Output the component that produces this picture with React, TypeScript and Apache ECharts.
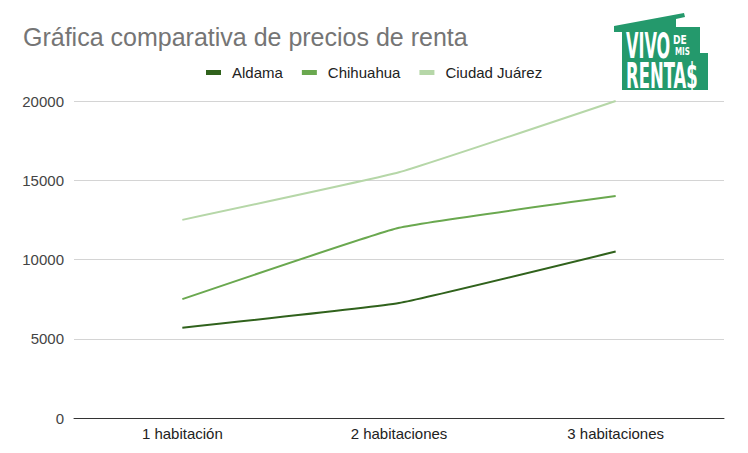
import React, { useEffect, useRef } from "react";
import * as echarts from "echarts";

const categories = ["1 habitación", "2 habitaciones", "3 habitaciones"];
const aldama = [5700, 7250, 10500];
const chihuahua = [7500, 12000, 14000];
const juarez = [12500, 15500, 20000];
const seriesNames = ["Aldama", "Chihuahua", "Ciudad Juárez"];
const seriesColors = ["#30621c", "#6aa84f", "#b6d7a8"];
const yTicks = { min: 0, max: 20000, interval: 5000 };

const LOGO = "#24996c";
const FONT = "Liberation Sans, Arial, sans-serif";

export default function App() {
  const ref = useRef<HTMLDivElement>(null);
  useEffect(() => {
    const chart = echarts.init(ref.current!, undefined, { renderer: "svg" });
    const data = [aldama, chihuahua, juarez];
    const logoText = (text: string, x: number, y: number, size: number, sx: number) => ({
      type: "text",
      x,
      y,
      scaleX: sx,
      style: {
        text,
        fontFamily: "DejaVu Sans",
        fontWeight: "bold",
        fontSize: size,
        fill: "#ffffff",
      },
    });
    chart.setOption({
      animation: false,
      backgroundColor: "#ffffff",
      title: {
        text: "Gráfica comparativa de precios de renta",
        left: 18,
        top: 19,
        textStyle: {
          fontFamily: FONT,
          fontSize: 25,
          fontWeight: "normal",
          color: "#757575",
        },
      },
      legend: {
        top: 60,
        left: 201,
        itemWidth: 15,
        itemHeight: 5,
        itemGap: 19,
        icon: "rect",
        textStyle: {
          fontFamily: FONT,
          fontSize: 15,
          color: "#222222",
          padding: [0, 0, 0, 6],
        },
        data: seriesNames,
      },
      grid: { left: 74, right: 24, top: 101, bottom: 35 },
      xAxis: {
        type: "category",
        data: categories,
        boundaryGap: true,
        axisLine: { lineStyle: { color: "#333333", width: 1 } },
        axisTick: { show: false },
        axisLabel: {
          fontFamily: FONT,
          fontSize: 15,
          color: "#222222",
          margin: 8,
        },
      },
      yAxis: {
        type: "value",
        min: yTicks.min,
        max: yTicks.max,
        interval: yTicks.interval,
        axisLine: { show: false },
        axisTick: { show: false },
        splitLine: { lineStyle: { color: "#d4d4d4", width: 1 } },
        axisLabel: {
          fontFamily: FONT,
          fontSize: 15,
          color: "#444444",
          margin: 10,
          formatter: (v: number) => String(v),
        },
      },
      series: seriesNames.map((name, i) => ({
        name,
        type: "line",
        data: data[i],
        smooth: 0.1,
        symbol: "none",
        lineStyle: { width: 2, color: seriesColors[i] },
        itemStyle: { color: seriesColors[i] },
      })),
      graphic: [
        {
          type: "polygon",
          shape: {
            points: [
              [614, 26],
              [684, 13],
              [685, 17],
              [676, 19],
              [676, 27],
              [700, 27],
              [700, 53],
              [708, 53],
              [708, 90],
              [622, 90],
              [622, 32],
              [614, 32],
            ],
          },
          style: { fill: LOGO },
        },
        logoText("VIVO", 626, 28, 35, 0.46),
        logoText("DE", 673, 33, 13, 0.7),
        logoText("MIS", 675, 45, 11, 0.65),
        logoText("RENTA$", 626, 58, 35, 0.47),
      ],
    });
    return () => chart.dispose();
  }, []);
  return <div ref={ref} style={{ width: 748, height: 453, position: "absolute", left: 0, top: 0 }} />;
}
